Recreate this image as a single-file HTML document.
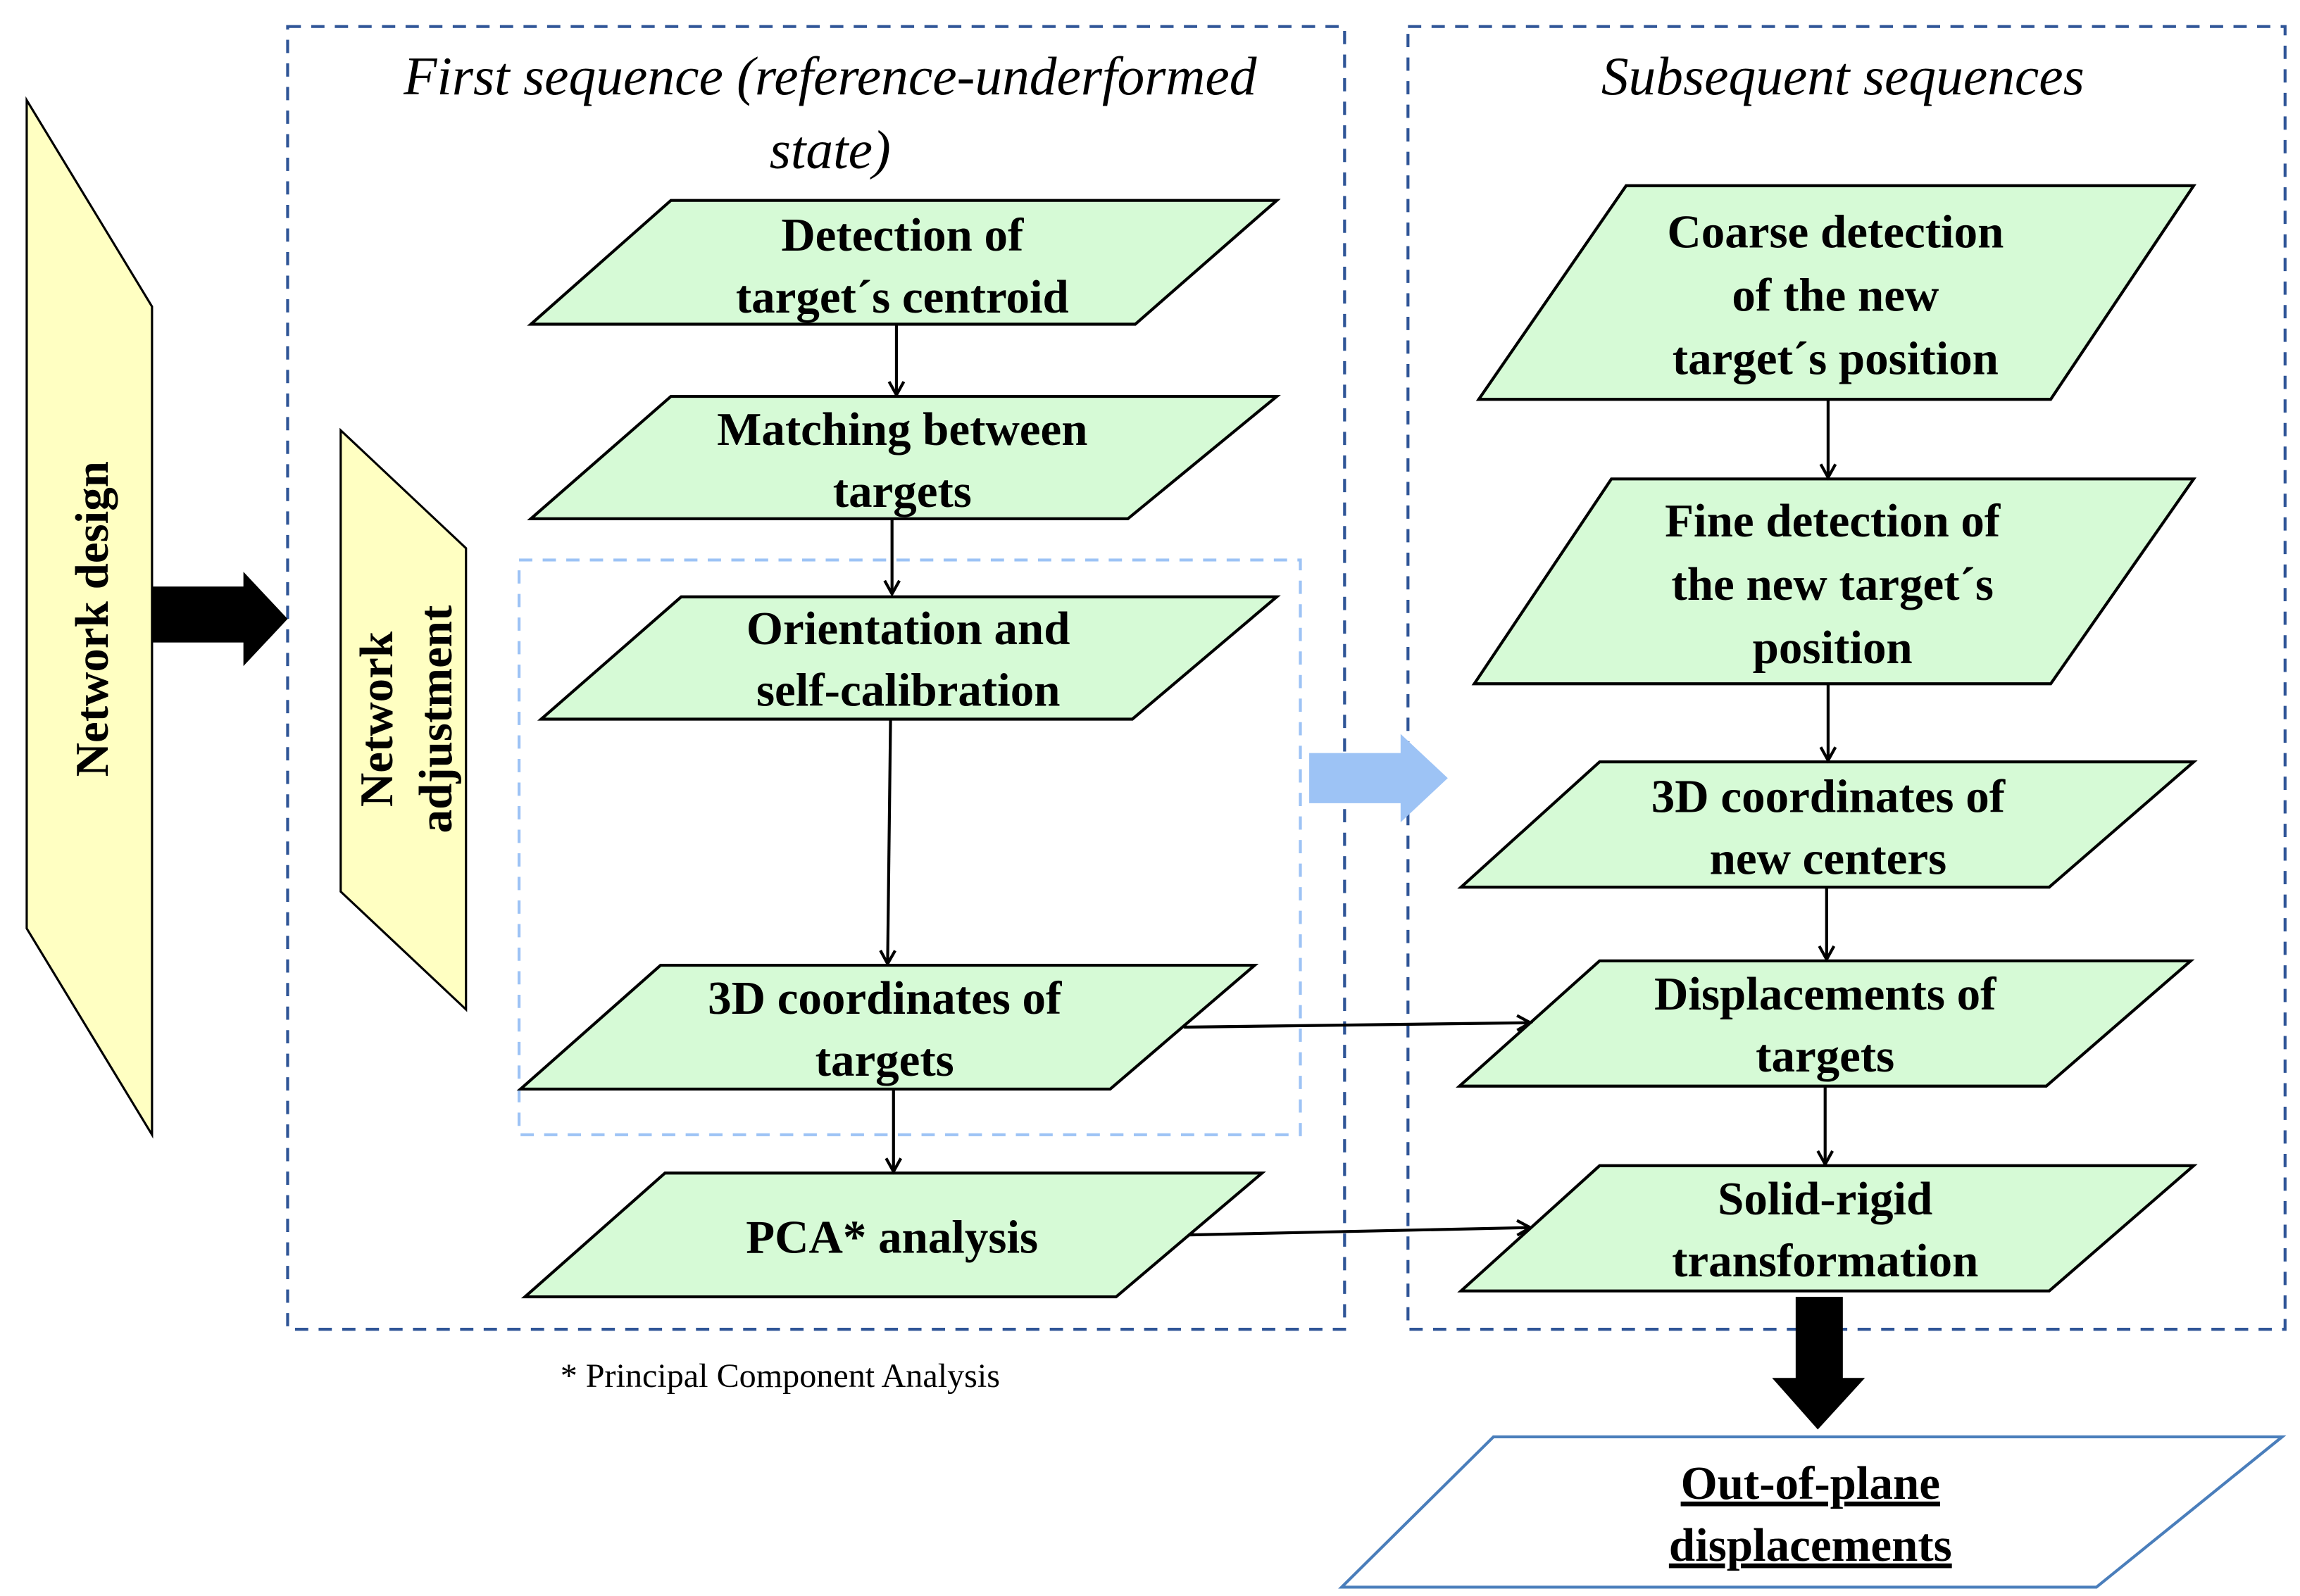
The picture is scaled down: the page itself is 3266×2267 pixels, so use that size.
<!DOCTYPE html>
<html><head><meta charset="utf-8"><style>html,body{margin:0;padding:0;background:#fff}svg{display:block}</style></head>
<body>
<svg width="3266" height="2267" viewBox="0 0 1560 1083" xmlns="http://www.w3.org/2000/svg">
<defs>
<marker id="ah" markerWidth="12" markerHeight="12" refX="10" refY="6" orient="auto" markerUnits="userSpaceOnUse">
<path d="M1,1 L10,6 L1,11" fill="none" stroke="#000" stroke-width="2"/>
</marker>
</defs>
<rect x="195" y="18" width="717" height="884" fill="none" stroke="#2F5597" stroke-width="2" stroke-dasharray="9,7"/>
<rect x="955" y="18" width="595" height="884" fill="none" stroke="#2F5597" stroke-width="2" stroke-dasharray="9,7"/>
<rect x="352" y="380" width="530" height="390" fill="none" stroke="#9DC3F5" stroke-width="2" stroke-dasharray="9,7"/>

<g font-family="Liberation Serif, serif" font-style="italic" font-size="37" fill="#000" text-anchor="middle">
<text x="563" y="64">First sequence (reference-underformed</text>
<text x="563" y="114">state)</text>
<text x="1250" y="64">Subsequent sequences</text>
</g>

<polygon points="18,68 103,208 103,770 18,630" fill="#FFFFC2" stroke="#000" stroke-width="1.5"/>
<polygon points="231,292 316,372 316,685 231,605" fill="#FFFFC2" stroke="#000" stroke-width="1.5"/>
<g font-family="Liberation Serif, serif" font-weight="bold" font-size="32" fill="#000" text-anchor="middle">
<text transform="translate(73,420) rotate(-90)">Network design</text>
<text transform="translate(266,488) rotate(-90)">Network</text>
<text transform="translate(306,488) rotate(-90)">adjustment</text>
</g>

<polygon points="103,398 165,398 165,388 195,420 165,452 165,436 103,436" fill="#000"/>
<polygon points="888,511 950,511 950,498 982,528 950,558 950,545 888,545" fill="#9DC3F5"/>
<polygon points="1218,880 1250,880 1250,935 1265,935 1233,970 1202,935 1218,935" fill="#000"/>

<g fill="#D6FAD6" stroke="#000" stroke-width="2">
<polygon points="360,220 455,136 866,136 770,220"/>
<polygon points="360,352 455,269 866,269 765,352"/>
<polygon points="367,488 462,405 866,405 768,488"/>
<polygon points="353,739 448,655 851,655 753,739"/>
<polygon points="356,880 451,796 856,796 757,880"/>
<polygon points="1003,271 1103,126 1488,126 1391,271"/>
<polygon points="1000,464 1093,325 1488,325 1391,464"/>
<polygon points="991,602 1085,517 1488,517 1390,602"/>
<polygon points="990,737 1085,652 1486,652 1388,737"/>
<polygon points="991,876 1085,791 1488,791 1390,876"/>
</g>
<polygon points="910,1077 1013,975 1548,975 1422,1077" fill="#fff" stroke="#4A7EBB" stroke-width="2"/>

<g stroke="#000" stroke-width="2" fill="none" marker-end="url(#ah)">
<line x1="608" y1="220" x2="608" y2="268"/>
<line x1="605" y1="352" x2="605" y2="403"/>
<line x1="604" y1="488" x2="602" y2="654"/>
<line x1="606" y1="739" x2="606" y2="795"/>
<line x1="1240" y1="271" x2="1240" y2="324"/>
<line x1="1240" y1="464" x2="1240" y2="516"/>
<line x1="1239" y1="602" x2="1239" y2="651"/>
<line x1="1238" y1="737" x2="1238" y2="790"/>
<line x1="803" y1="697" x2="1038" y2="694"/>
<line x1="806" y1="838" x2="1038" y2="833"/>
</g>

<g font-family="Liberation Serif, serif" font-weight="bold" font-size="32" fill="#000" text-anchor="middle">
<text x="612" y="170">Detection of</text>
<text x="612" y="212">target´s centroid</text>
<text x="612" y="302">Matching between</text>
<text x="612" y="344">targets</text>
<text x="616" y="437">Orientation and</text>
<text x="616" y="479">self-calibration</text>
<text x="600" y="688">3D coordinates of</text>
<text x="600" y="730">targets</text>
<text x="605" y="850">PCA* analysis</text>
<text x="1245" y="168">Coarse detection</text>
<text x="1245" y="211">of the new</text>
<text x="1245" y="254">target´s position</text>
<text x="1243" y="364">Fine detection of</text>
<text x="1243" y="407">the new target´s</text>
<text x="1243" y="450">position</text>
<text x="1240" y="551">3D coordinates of</text>
<text x="1240" y="593">new centers</text>
<text x="1238" y="685">Displacements of</text>
<text x="1238" y="727">targets</text>
<text x="1238" y="824">Solid-rigid</text>
<text x="1238" y="866">transformation</text>
<text x="1228" y="1017" text-decoration="underline">Out-of-plane</text>
<text x="1228" y="1059" text-decoration="underline">displacements</text>
</g>
<text x="380" y="941" font-family="Liberation Serif, serif" font-size="23" fill="#000">* Principal Component Analysis</text>
</svg>
</body></html>
